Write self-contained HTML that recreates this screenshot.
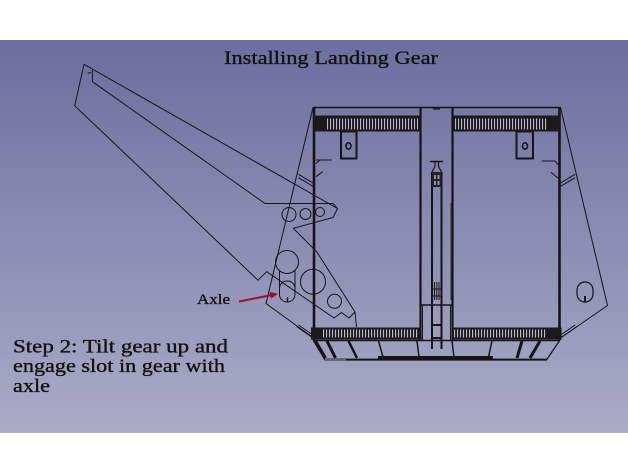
<!DOCTYPE html>
<html><head><meta charset="utf-8"><style>
html,body{margin:0;padding:0;background:#fff;}
svg{display:block;}
text{font-family:"Liberation Serif","DejaVu Serif",serif;fill:#111;stroke:#111;stroke-width:0.35;}
</style></head><body>
<svg width="628" height="472" viewBox="0 0 628 472" xmlns="http://www.w3.org/2000/svg">
<defs>
<linearGradient id="bg" x1="0" y1="0" x2="0" y2="1">
<stop offset="0" stop-color="#6d6d9f"/>
<stop offset="1" stop-color="#ababc7"/>
</linearGradient>
</defs>
<rect width="628" height="472" fill="#fff"/>
<rect x="0" y="40" width="628" height="393" fill="url(#bg)"/>

<text x="224" y="64" font-size="19" textLength="214" lengthAdjust="spacingAndGlyphs">Installing Landing Gear</text>

<g fill="none" stroke="#151515" stroke-width="1" stroke-linejoin="round">
<!-- arm -->
<polyline points="84,64.3 74.7,105.7 258,280.2 266.7,271.7 334,318 341.5,312.5 349,318 355,312 356.5,327"/>
<polyline points="355,312 316.7,251.7 293.3,228.3 333,217.5 337.5,208.5 333,203.5 265,203.5 92.5,81.7 92.3,69.5"/>
<line x1="84" y1="64.3" x2="337.5" y2="208.5"/>
<line x1="87.5" y1="73.3" x2="91" y2="72.6"/>

<!-- body outline -->
<line x1="313" y1="107.5" x2="560.5" y2="107.5" stroke-width="1.6"/>
<polyline points="313,107.5 266,303.5 313,337.5"/>
<polyline points="560.5,107.5 607.5,305.5 560.5,338"/>
<line x1="314" y1="107" x2="314" y2="340" stroke-width="2.6"/>
<line x1="559.5" y1="107" x2="559.5" y2="340" stroke-width="2.6"/>

<!-- hinge lines -->
<line x1="560" y1="183.3" x2="575" y2="174.3"/>
<line x1="560" y1="186.7" x2="575" y2="177.7"/>
<line x1="313.5" y1="183.3" x2="298.5" y2="174.3"/>
<line x1="313.5" y1="186.7" x2="298.5" y2="177.7"/>
<line x1="560" y1="338.3" x2="576.7" y2="326.7"/>
<line x1="560" y1="335.5" x2="575" y2="325"/>
<line x1="313.5" y1="338.3" x2="296.8" y2="326.7"/>
<line x1="313.5" y1="335.5" x2="298.5" y2="325"/>
<line x1="541.7" y1="161" x2="555" y2="161"/>
<line x1="555" y1="161" x2="558.3" y2="165"/>
<line x1="551" y1="172.3" x2="558.3" y2="178.3"/>
<line x1="316" y1="160" x2="331.7" y2="160"/>
<line x1="316" y1="163.5" x2="320" y2="160"/>
<line x1="316" y1="176.7" x2="322.7" y2="171.7"/>

<!-- circles -->
<circle cx="289" cy="214.5" r="7"/>
<circle cx="305.5" cy="214" r="5.5"/>
<circle cx="320" cy="212" r="4.5"/>
<circle cx="287" cy="262" r="11.5"/>
<circle cx="313" cy="281.7" r="12.5"/>
<circle cx="334.5" cy="301.3" r="7"/>
<rect x="279.5" y="281" width="15.5" height="21" rx="7.5"/>
<line x1="279.5" y1="270" x2="279.5" y2="288"/>
<line x1="295" y1="270" x2="295" y2="288"/>
<line x1="287.5" y1="297" x2="287.5" y2="302" stroke-width="1.5"/>
<rect x="577" y="282" width="16" height="20" rx="8" stroke-width="1.2"/>
<line x1="585" y1="296" x2="585" y2="302" stroke-width="2"/>

<!-- brackets -->
<rect x="341" y="131.5" width="15.5" height="27" stroke-width="2"/>
<ellipse cx="348.5" cy="146" rx="2.5" ry="3.2" stroke-width="1.6"/>
<rect x="516.5" y="131.5" width="16.5" height="27" stroke-width="2"/>
<ellipse cx="525" cy="146" rx="2.5" ry="3.2" stroke-width="1.6"/>

<!-- central column -->
<line x1="420.5" y1="107.5" x2="420.5" y2="341" stroke-width="2.2"/>
<line x1="452.5" y1="107.5" x2="452.5" y2="341" stroke-width="2.2"/>
<line x1="433" y1="109" x2="440" y2="109" stroke-width="1.2"/>
<line x1="432" y1="172" x2="432" y2="349" stroke-width="2"/>
<line x1="441.5" y1="172" x2="441.5" y2="349" stroke-width="2"/>
<line x1="430" y1="161.5" x2="443" y2="161.5" stroke-width="1.5"/>
<line x1="435" y1="161.5" x2="435" y2="166.5" stroke-width="1.2"/>
<line x1="438.5" y1="161.5" x2="438.5" y2="166.5" stroke-width="1.2"/>
<line x1="435" y1="166.5" x2="432" y2="172" stroke-width="1.2"/>
<line x1="438.5" y1="166.5" x2="441.5" y2="172" stroke-width="1.2"/>
<line x1="434.5" y1="282" x2="434.5" y2="300"/>
<line x1="436.8" y1="282" x2="436.8" y2="300"/>
<line x1="439" y1="282" x2="439" y2="300"/>
<line x1="432" y1="289" x2="441.5" y2="289"/>
<line x1="432" y1="296" x2="441.5" y2="296"/>
<line x1="420.5" y1="305" x2="452.5" y2="305" stroke-width="1.5"/>
<line x1="422.5" y1="305" x2="422.5" y2="340"/>
<line x1="450.5" y1="305" x2="450.5" y2="340"/>
<line x1="432" y1="325" x2="441.5" y2="325" stroke-width="2"/>
<line x1="432" y1="338" x2="441.5" y2="338" stroke-width="2"/>
<line x1="451" y1="203" x2="451" y2="300" stroke="#333"/>

<!-- skirt -->
<polyline points="313,340 325,360 546.5,360 560,340" stroke-width="1.2"/>
<line x1="313" y1="340.5" x2="560" y2="340.5" stroke-width="1.5"/>
<line x1="325" y1="359.5" x2="547" y2="359.5" stroke-width="1.8"/>
<line x1="315.5" y1="341" x2="325.5" y2="358" stroke-width="3"/>
<line x1="327" y1="341" x2="335.5" y2="358" stroke-width="3"/>
<line x1="348.5" y1="341" x2="357" y2="358" stroke-width="2.5"/>
<line x1="378.5" y1="341" x2="383" y2="357" stroke-width="1.5"/>
<line x1="417" y1="341" x2="419" y2="357" stroke-width="1.5"/>
<line x1="452" y1="341" x2="454" y2="357" stroke-width="1.5"/>
<line x1="492" y1="341" x2="488.5" y2="357" stroke-width="1.5"/>
<line x1="522" y1="341" x2="517" y2="358" stroke-width="3"/>
<line x1="540" y1="341" x2="530" y2="358" stroke-width="3"/>
</g>
<rect x="378" y="356" width="115" height="4" fill="#151515"/>
<line x1="325" y1="360" x2="346" y2="360" stroke="#666" stroke-width="2"/>

<!-- strut dark block -->
<rect x="432" y="172" width="9.5" height="15" fill="#222"/>
<rect x="434" y="175" width="2" height="4" fill="#9090b8"/>
<rect x="437.5" y="175" width="2" height="4" fill="#9090b8"/>
<rect x="434" y="181" width="2" height="4" fill="#9090b8"/>
<rect x="437.5" y="181" width="2" height="4" fill="#9090b8"/>

<!-- racks -->
<rect x="314" y="115.5" width="105.5" height="16" fill="#1a1a1a"/>
<line x1="327" y1="124" x2="418" y2="124" stroke="#b8b8d4" stroke-width="11" stroke-dasharray="1.1 1.9"/>
<rect x="453.5" y="115.5" width="107" height="16" fill="#1a1a1a"/>
<line x1="455" y1="124" x2="547" y2="124" stroke="#b8b8d4" stroke-width="11" stroke-dasharray="1.1 1.9"/>
<rect x="311" y="327.5" width="109" height="12" fill="#1a1a1a"/>
<line x1="323" y1="333.5" x2="418" y2="333.5" stroke="#bcbcd6" stroke-width="8" stroke-dasharray="1.1 1.9"/>
<rect x="452" y="327.5" width="109.5" height="12" fill="#1a1a1a"/>
<line x1="454" y1="333.5" x2="547" y2="333.5" stroke="#bcbcd6" stroke-width="8" stroke-dasharray="1.1 1.9"/>

<!-- arrow -->
<line x1="239" y1="301.5" x2="271" y2="295.2" stroke="#9b1030" stroke-width="2"/>
<polygon points="278,293.8 270.9,298.7 269.5,291.9" fill="#9b1030"/>

<text x="197" y="304" font-size="15" textLength="33" lengthAdjust="spacingAndGlyphs">Axle</text>
<text x="13" y="352.5" font-size="19" textLength="215" lengthAdjust="spacingAndGlyphs">Step 2:  Tilt gear up and</text>
<text x="13" y="372" font-size="19" textLength="212" lengthAdjust="spacingAndGlyphs">engage slot in gear with</text>
<text x="13" y="392" font-size="19" textLength="37" lengthAdjust="spacingAndGlyphs">axle</text>
</svg>
</body></html>
